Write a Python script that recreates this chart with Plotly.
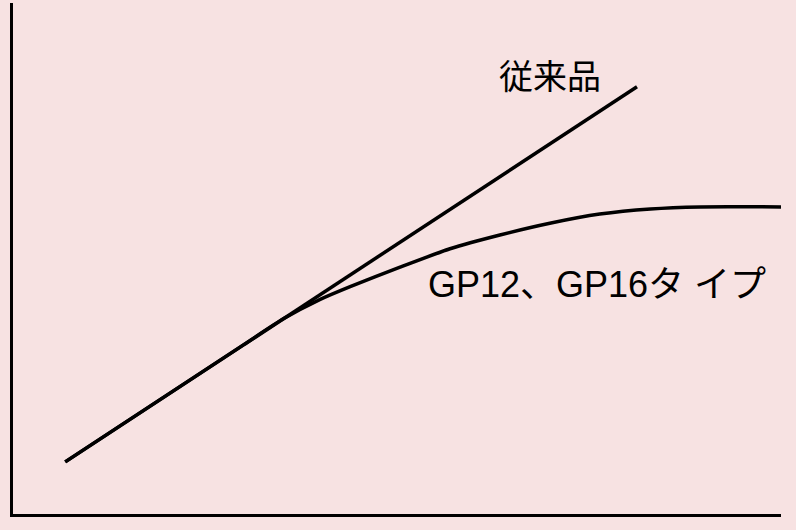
import plotly.graph_objects as go

# data (arbitrary units, 0-100 on both axes)
conv_x = [6.8, 81.25]
conv_y = [10.2, 83.6]

gp_x = [6.8, 30.0, 35.2, 40.0, 43.9, 50.4, 56.9, 63.4, 69.9, 76.4, 83.0, 89.5, 100]
gp_y = [10.2, 33.1, 38.2, 42.0, 44.5, 48.3, 51.9, 54.6, 56.9, 58.7, 59.7, 60.1, 60.1]

label_conv = "従来品"
label_gp = "GP12、GP16タ イプ"

bg = "#f7e2e2"
font_family = "Liberation Sans, Noto Sans CJK JP, sans-serif"

fig = go.Figure()
fig.add_trace(go.Scatter(x=conv_x, y=conv_y, mode="lines",
                         line=dict(color="black", width=3.5)))
fig.add_trace(go.Scatter(x=gp_x, y=gp_y, mode="lines", line_shape="spline",
                         line=dict(color="black", width=3.5, smoothing=0.6)))

fig.add_annotation(x=69.9, y=85.5, text=label_conv, showarrow=False,
                   font=dict(size=34, color="black", family=font_family))
fig.add_annotation(x=53.8, y=45.0, text=label_gp, showarrow=False, xanchor="left",
                   font=dict(size=36, color="black", family=font_family))

axis = dict(showline=True, linewidth=3, linecolor="black", showgrid=False,
            zeroline=False, showticklabels=False, ticks="", fixedrange=True)
fig.update_xaxes(range=[0, 100], **axis)
fig.update_yaxes(range=[0, 100], **axis)

fig.update_layout(width=796, height=530, showlegend=False,
                  paper_bgcolor=bg, plot_bgcolor=bg,
                  margin=dict(l=13, r=15, t=3, b=16),
                  font=dict(family=font_family))

fig.write_html("out.html", config={"displayModeBar": False},
               post_script="document.body.style.margin='0';")
